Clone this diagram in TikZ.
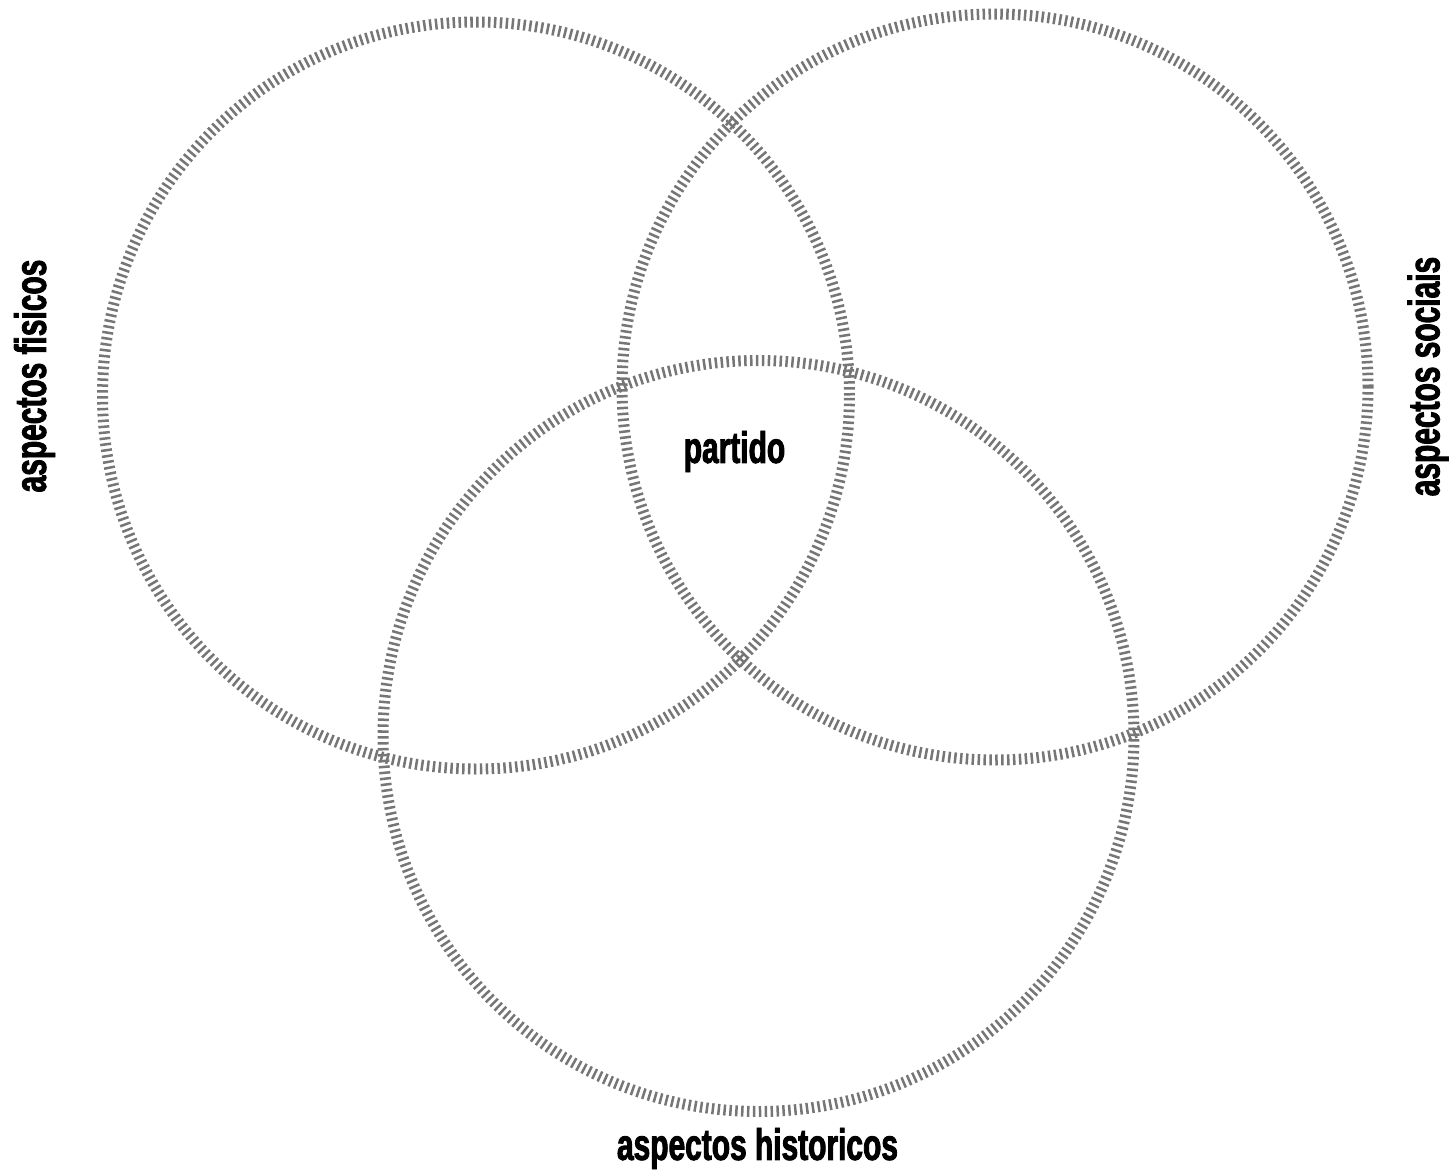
\documentclass[tikz,border=0pt]{standalone}
\usepackage{fontspec}
\newfontfamily\lblfont[UprightFont={* Bold}, FakeStretch=0.68, FakeBold=2]{Liberation Sans}
\definecolor{tick}{RGB}{118,118,118}
\tikzset{
  ring/.style={draw=tick, line width=11pt, dash pattern=on 2.5pt off 3.4pt},
  lbl/.style={font=\lblfont\fontsize{44}{50}\selectfont, inner sep=0pt, text=black}
}
\begin{document}
\begin{tikzpicture}[x=1pt,y=-1pt]
\useasboundingbox (0,0) rectangle (1449,1170);
\draw[ring] (476,395.5) circle [radius=373.5pt];
\draw[ring] (995,387) circle [radius=373pt];
\draw[ring] (758.5,736) circle [radius=375.5pt];
\node[lbl] (partido) at (734.5,451.5) {partido};
\node[lbl] (hist) at (757.5,1148.5) {aspectos historicos};
\node[lbl, rotate=90] (fis) at (34.5,376) {aspectos fisicos};
\node[lbl, rotate=90] (soc) at (1428,376.5) {aspectos sociais};
\end{tikzpicture}
\end{document}
